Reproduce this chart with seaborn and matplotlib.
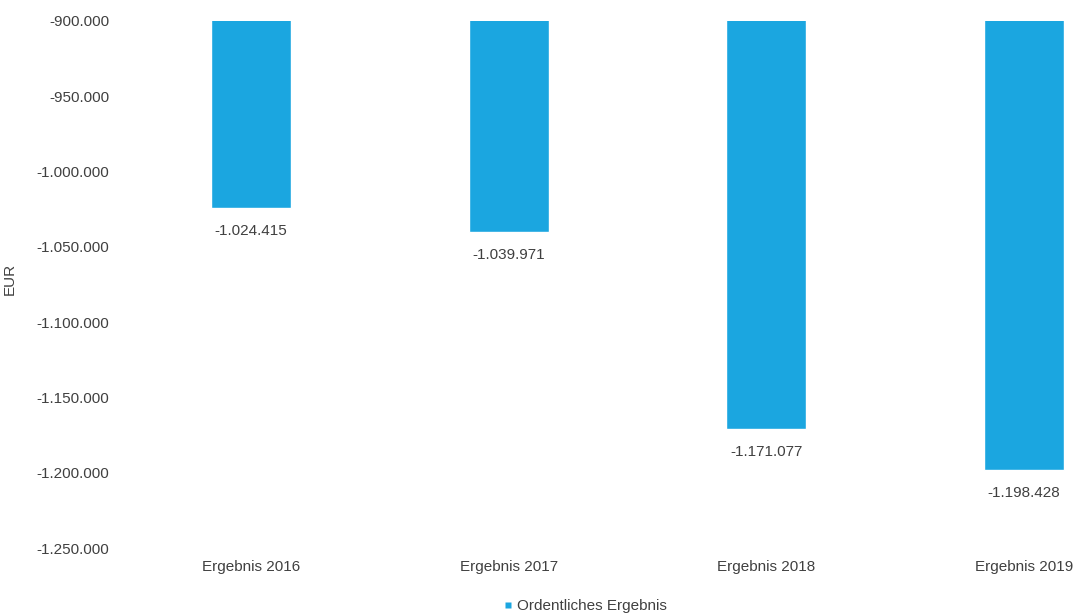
import matplotlib
matplotlib.use("Agg")
import matplotlib.pyplot as plt
import seaborn as sns
import pandas as pd
from matplotlib.ticker import FuncFormatter
from matplotlib.lines import Line2D

categories = ["Ergebnis 2016", "Ergebnis 2017", "Ergebnis 2018", "Ergebnis 2019"]
values = [-1024415, -1039971, -1171077, -1198428]
series_name = "Ordentliches Ergebnis"
y_ticks = [-1250000, -1200000, -1150000, -1100000, -1050000, -1000000, -950000, -900000]

df = pd.DataFrame({"cat": categories, "value": values, "series": [series_name] * len(values)})

sns.set_theme(style="white")
plt.rcParams["font.family"] = ["Liberation Sans", "DejaVu Sans"]
text_color = "#404040"
bar_color = "#1ba6e0"

def de_fmt(v, pos=None):
    return f"{v:,.0f}".replace(",", ".")

fig = plt.figure(figsize=(10.8, 6.16), dpi=100)
ax = fig.add_axes([122 / 1080, 1 - 548 / 616, 1 - 122 / 1080, (548 - 21) / 616])

sns.barplot(data=df, x="cat", y="value", hue="series", palette=[bar_color],
            width=0.31, ax=ax, legend=False, saturation=1)

ax.set_ylim(-1250000, -900000)
ax.set_xlim(-0.5, 3.217)
ax.set_yticks(y_ticks)
ax.yaxis.set_major_formatter(FuncFormatter(de_fmt))
ax.tick_params(axis="both", length=0, labelsize=11, colors=text_color)
ax.tick_params(axis="y", pad=9)
ax.tick_params(axis="x", pad=9)
ax.set_xlabel("")
ax.set_ylabel("EUR", fontsize=11, color=text_color, labelpad=6)
ax.yaxis.set_label_coords(-(122 - 17) / 958, 0.51)
for s in ax.spines.values():
    s.set_visible(False)
ax.grid(False)

for i, v in enumerate(values):
    ax.annotate(de_fmt(v), xy=(i, v), xytext=(0, -11.5), textcoords="offset points",
                ha="center", va="top", fontsize=11, color=text_color)

handle = Line2D([], [], marker="s", linestyle="none", markersize=5,
                markerfacecolor=bar_color, markeredgecolor="none", label=series_name)
fig.legend(handles=[handle], loc="center", bbox_to_anchor=(585 / 1080, 1 - 606 / 616),
           frameon=False, fontsize=11, handlelength=0.6,
           handletextpad=0.3, labelcolor=text_color)

fig.savefig("out.png", dpi=100)
